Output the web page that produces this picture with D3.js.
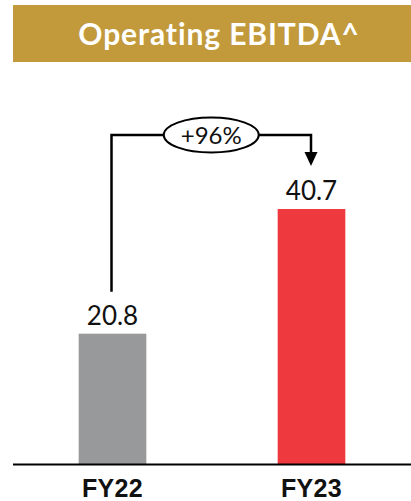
<!DOCTYPE html>
<html><head><meta charset="utf-8">
<script src="https://cdn.jsdelivr.net/npm/d3@7"></script>
<style>html,body{margin:0;padding:0;background:#fff;}svg{display:block;}</style>
</head><body>
<script>
const title = "Operating EBITDA^";
const categories = ["FY22", "FY23"];
const values = [20.8, 40.7];
const valueLabels = ["20.8", "40.7"];
const barColors = ["#98999b", "#ee3a3f"];
const growthLabel = "+96%";

const W = 411, H = 501;
const svg = d3.select("body").append("svg").attr("width", W).attr("height", H);

// title band
svg.append("rect").attr("x", 13).attr("y", 5).attr("width", 398).attr("height", 57).attr("fill", "#c29a3b");
svg.append("text").attr("x", 219).attr("y", 44.5).attr("text-anchor", "middle")
  .attr("font-family", "Lato").attr("font-weight", "bold").attr("font-size", 30).attr("fill", "#fff")
  .attr("letter-spacing", 0.9)
  .text(title);

const baseY = 464;
const x = d3.scaleBand().domain(categories).range([13, 411]).paddingInner(0.66).paddingOuter(0.33);
const y = d3.scaleLinear().domain([0, 40.7]).range([baseY, 209]);

svg.selectAll("rect.bar").data(values).enter().append("rect").attr("class", "bar")
  .attr("x", (d, i) => x(categories[i])).attr("width", x.bandwidth())
  .attr("y", d => y(d)).attr("height", d => baseY - y(d))
  .attr("fill", (d, i) => barColors[i]);

svg.selectAll("text.val").data(values).enter().append("text").attr("class", "val")
  .attr("x", (d, i) => x(categories[i]) + x.bandwidth() / 2).attr("y", d => y(d) - 9)
  .attr("text-anchor", "middle").attr("font-family", "Lato").attr("font-size", 26).attr("fill", "#111")
  .text((d, i) => valueLabels[i]);

// axis line
svg.append("line").attr("x1", 13).attr("x2", 411).attr("y1", baseY + 0.5).attr("y2", baseY + 0.5)
  .attr("stroke", "#000").attr("stroke-width", 2);

const xAxis = d3.axisBottom(x).tickSize(0).tickPadding(0);
const ax = svg.append("g").attr("transform", `translate(0,${baseY})`).call(xAxis);
ax.select(".domain").remove();
ax.selectAll("text").attr("dy", null).attr("y", 32.5)
  .attr("font-family", "Liberation Sans, Arial").attr("font-weight", "bold").attr("font-size", 25).attr("fill", "#111")
  .attr("letter-spacing", 0.3);

// growth bracket
const cx0 = x(categories[0]) + x.bandwidth() / 2 - 1;
const cx1 = x(categories[1]) + x.bandwidth() / 2 - 0.5;
const topY = 135;
svg.append("path")
  .attr("d", `M${cx0},${y(values[0]) - 42} V${topY} H${cx1} V${y(values[1]) - 57}`)
  .attr("fill", "none").attr("stroke", "#000").attr("stroke-width", 2.5);
svg.append("path")
  .attr("d", `M${cx1 - 6.5},${y(values[1]) - 57} L${cx1 + 6.5},${y(values[1]) - 57} L${cx1},${y(values[1]) - 43} Z`)
  .attr("fill", "#000");
const ex = (cx0 + cx1) / 2;
svg.append("ellipse").attr("cx", ex).attr("cy", topY).attr("rx", 47.5).attr("ry", 17.5)
  .attr("fill", "#fff").attr("stroke", "#000").attr("stroke-width", 2);
svg.append("text").attr("x", ex).attr("y", topY + 8.5).attr("text-anchor", "middle")
  .attr("font-family", "Lato").attr("font-size", 24).attr("fill", "#111").text(growthLabel);
</script>
</body></html>
